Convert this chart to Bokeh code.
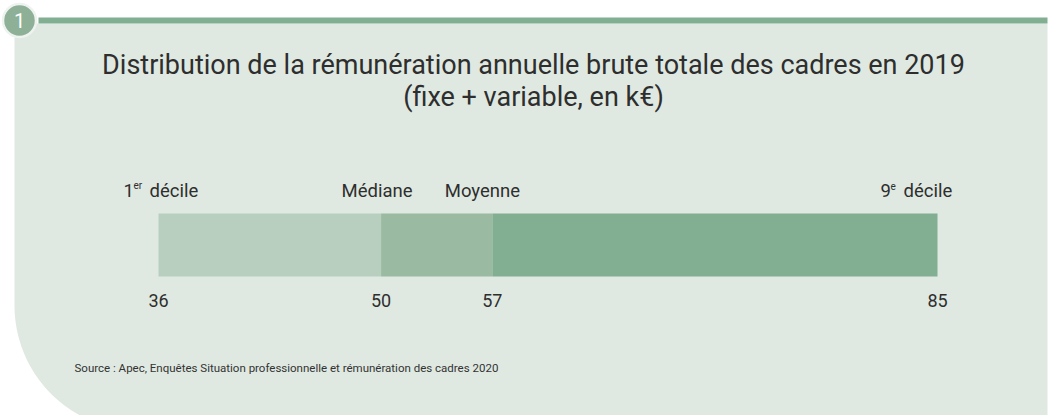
import numpy as np
from bokeh.plotting import figure
from bokeh.models import Range1d
from bokeh.core.properties import value
from bokeh.embed import file_html
from bokeh.resources import INLINE

# ---- data ----
stat_labels = ["1er décile", "Médiane", "Moyenne", "9e décile"]
stat_values = [36, 50, 57, 85]
tick_labels = ["36", "50", "57", "85"]
title_lines = ["Distribution de la rémunération annuelle brute totale des cadres en 2019",
               "(fixe + variable, en k€)"]
source_text = "Source : Apec, Enquêtes Situation professionnelle et rémunération des cadres 2020"
badge_text = "1"

FONT = value("Roboto")
TXT = "#2e2e2e"
PANEL = "#dfe9e1"
BAR_COLORS = ["#b8cfc0", "#9bbaa2", "#82ae91"]

W, H = 1051, 415
OX, OY = 0, 0
# data-x scale: value 36 -> page px 158, value 85 -> page px 937
px_per = (937 - 158) / (85 - 36)
x0 = 36 - (158 - OX) / px_per
x1 = 85 + (OX + W - 937) / px_per

p = figure(width=W, height=H, output_backend="svg", toolbar_location=None,
           x_range=Range1d(x0, x1), y_range=Range1d(OY + H, OY),
           min_border=0, border_fill_color="white", background_fill_color="white")
p.extra_x_ranges = {"px": Range1d(OX, OX + W)}
p.axis.visible = False
p.grid.visible = False
p.outline_line_color = None

# panel with rounded bottom-left corner
cx, cy, R = 14 + 125, 305, 125
t = np.linspace(0, np.arcsin((415 - cy) / R), 40)
arc_x = cx - R * np.cos(t)
arc_y = cy + R * np.sin(t)
px_x = [14, 1047, 1047, arc_x[-1]] + list(arc_x[::-1]) + [14]
px_y = [23, 23, 420, 420] + list(arc_y[::-1]) + [23]
p.patch(px_x, px_y, fill_color=PANEL, line_color=None, x_range_name="px")

# top bar
p.quad(left=[38], right=[1047], top=[17], bottom=[23], fill_color="#82ae91",
       line_color=None, x_range_name="px")
# badge
p.scatter([19], [20], size=33, marker="circle", fill_color="#8db097",
          line_color="#eef3ef", line_width=2.5, x_range_name="px")
p.text([19], [20], text=[badge_text], text_font=FONT, text_font_size="20px",
       text_font_style="normal", text_color="white", text_align="center",
       text_baseline="middle", x_range_name="px")

# title
p.text([533, 533], [64, 96], text=title_lines, text_font=FONT, text_font_size="27px",
       text_color=TXT, text_align="center", text_baseline="middle", x_range_name="px")

# bars (segments between successive statistics)
p.quad(left=stat_values[:-1], right=stat_values[1:], top=[213] * 3, bottom=[276] * 3,
       fill_color=BAR_COLORS, line_color=None)

# value labels under the bars
p.text(stat_values, [300] * 4, text=tick_labels, text_font=FONT, text_font_size="18px",
       text_color=TXT, text_align="center", text_baseline="middle")

# statistic labels above the bars
ly = 190
LS = "18.5px"
# 1er décile
p.text([stat_values[0]], [ly], text=["1"], x_offset=-35, text_font=FONT,
       text_font_size=LS, text_color=TXT, text_align="left", text_baseline="middle")
p.text([stat_values[0]], [ly - 5], text=["er"], x_offset=-25, text_font=FONT,
       text_font_size="10px", text_color=TXT, text_align="left", text_baseline="middle")
p.text([stat_values[0]], [ly], text=["décile"], x_offset=-9, text_font=FONT,
       text_font_size=LS, text_color=TXT, text_align="left", text_baseline="middle")
# Médiane / Moyenne
p.text([stat_values[1]], [ly], text=[stat_labels[1]], x_offset=-4, text_font=FONT,
       text_font_size=LS, text_color=TXT, text_align="center", text_baseline="middle")
p.text([stat_values[2]], [ly], text=[stat_labels[2]], x_offset=-10, text_font=FONT,
       text_font_size=LS, text_color=TXT, text_align="center", text_baseline="middle")
# 9e décile
p.text([stat_values[3]], [ly], text=["9"], x_offset=-57, text_font=FONT,
       text_font_size=LS, text_color=TXT, text_align="left", text_baseline="middle")
p.text([stat_values[3]], [ly - 5], text=["e"], x_offset=-47, text_font=FONT,
       text_font_size="10px", text_color=TXT, text_align="left", text_baseline="middle")
p.text([stat_values[3]], [ly], text=["décile"], x_offset=-34, text_font=FONT,
       text_font_size=LS, text_color=TXT, text_align="left", text_baseline="middle")

# source
p.text([74], [367], text=[source_text], text_font=FONT, text_font_size="11.5px",
       text_color="#333333", text_align="left", text_baseline="middle", x_range_name="px")

open("out.html", "w").write(file_html(p, INLINE))
